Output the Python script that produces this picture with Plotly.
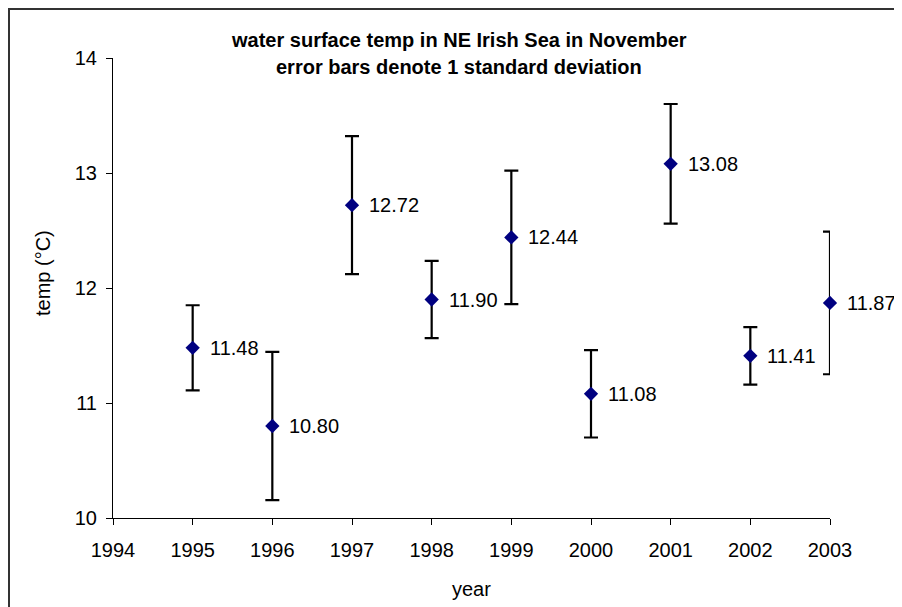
import plotly.graph_objects as go

years = [1995, 1996, 1997, 1998, 1999, 2000, 2001, 2002, 2003]
mean_temp = [11.48, 10.80, 12.72, 11.90, 12.44, 11.08, 13.08, 11.41, 11.87]
std_dev = [0.37, 0.645, 0.60, 0.335, 0.58, 0.38, 0.52, 0.25, 0.62]
labels = [f"{v:.2f}" for v in mean_temp]
x_ticks = list(range(1994, 2004))
y_ticks = [10, 11, 12, 13, 14]

# page has an 8px body margin; figure is sized/offset to compensate
OFF = 8
W, H = 902 - OFF, 607 - OFF
L, R, T, B = 113 - OFF, 72, 58 - OFF, 89
PW, PH = W - L - R, H - T - B


def px_x(p):  # page pixel -> paper x
    return (p - OFF - L) / PW


def px_y(p):  # page pixel -> paper y
    return (H - B - (p - OFF)) / PH


FONT = "Liberation Sans, Arial, sans-serif"

fig = go.Figure()
fig.add_trace(go.Scatter(
    x=years, y=mean_temp, mode="markers",
    marker=dict(symbol="diamond", size=11, color="#000080"),
    error_y=dict(type="data", array=std_dev, visible=True,
                 color="black", thickness=2.2, width=7),
    cliponaxis=False, showlegend=False, hoverinfo="x+y",
))

annotations = []
for x, y, t in zip(years, mean_temp, labels):
    annotations.append(dict(x=x, y=y, xref="x", yref="y", text=t, showarrow=False,
                            xanchor="left", yanchor="middle", xshift=15,
                            font=dict(family=FONT, size=20, color="black")))

annotations += [
    dict(x=px_x(459), y=px_y(40), xref="paper", yref="paper", showarrow=False,
         text="<b>water surface temp in NE Irish Sea in November</b>",
         xanchor="center", yanchor="middle", font=dict(family=FONT, size=20, color="black")),
    dict(x=px_x(459), y=px_y(67), xref="paper", yref="paper", showarrow=False,
         text="<b>error bars denote 1 standard deviation</b>",
         xanchor="center", yanchor="middle", font=dict(family=FONT, size=20, color="black")),
    dict(x=px_x(43), y=px_y(273), xref="paper", yref="paper", showarrow=False,
         text="temp (°C)", textangle=-90,
         xanchor="center", yanchor="middle", font=dict(family=FONT, size=20, color="black")),
    dict(x=0.5, y=px_y(589), xref="paper", yref="paper", showarrow=False,
         text="year",
         xanchor="center", yanchor="middle", font=dict(family=FONT, size=20, color="black")),
]

border = dict(color="#333333", width=2)
shapes = [
    dict(type="line", xref="paper", yref="paper", layer="below",
         x0=px_x(8), x1=px_x(915), y0=px_y(9), y1=px_y(9), line=border),
    dict(type="line", xref="paper", yref="paper", layer="below",
         x0=px_x(9), x1=px_x(9), y0=px_y(8), y1=px_y(620), line=border),
]

fig.update_layout(
    width=W, height=H,
    margin=dict(l=L, r=R, t=T, b=B),
    paper_bgcolor="white", plot_bgcolor="white",
    font=dict(family=FONT, size=20, color="black"),
    annotations=annotations,
    shapes=shapes,
    xaxis=dict(range=[1994, 2003], tickvals=x_ticks, ticktext=[str(v) for v in x_ticks],
               showgrid=False, zeroline=False, showline=True, linecolor="black", linewidth=1,
               ticks="outside", ticklen=6, tickcolor="black", tickwidth=1,
               ticklabelstandoff=8,
               tickfont=dict(family=FONT, size=20, color="black")),
    yaxis=dict(range=[10, 14], tickvals=y_ticks,
               showgrid=False, zeroline=False, showline=True, linecolor="black", linewidth=1,
               ticks="outside", ticklen=6, tickcolor="black", tickwidth=1,
               ticklabelstandoff=5,
               tickfont=dict(family=FONT, size=20, color="black")),
)

fig.write_html("out.html")
